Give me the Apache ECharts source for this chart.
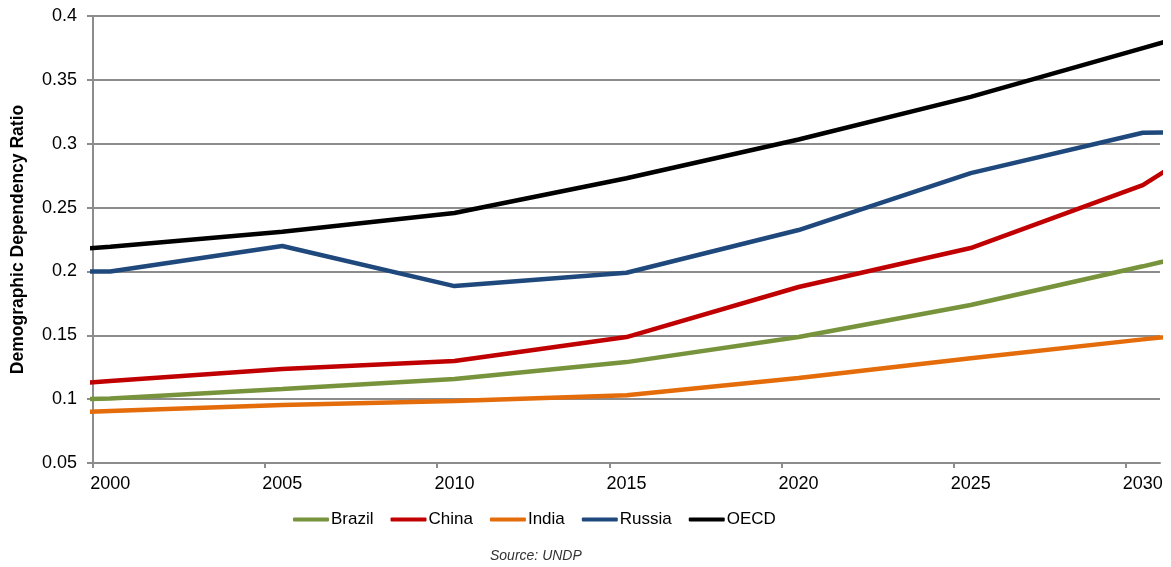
<!DOCTYPE html>
<html>
<head>
<meta charset="utf-8">
<script src="https://cdn.jsdelivr.net/npm/echarts@6/dist/echarts.min.js"></script>
<style>
  html, body { margin: 0; padding: 0; background: #ffffff; }
  #chart { width: 1171px; height: 567px; }
</style>
</head>
<body>
<div id="chart"></div>
<script>
// Demographic dependency ratio, UNDP projections (5-year steps)
const years  = [1995, 2000, 2005, 2010, 2015, 2020, 2025, 2030, 2035];
const brazil = [0.097, 0.1005, 0.108, 0.1158, 0.129, 0.1486, 0.1737, 0.204, 0.235];
const china  = [0.104, 0.1142, 0.1236, 0.1298, 0.1486, 0.1878, 0.2183, 0.2676, 0.352];
const india  = [0.086, 0.0907, 0.0954, 0.0985, 0.103, 0.1165, 0.132, 0.1468, 0.161];
const russia = [0.200, 0.200, 0.2199, 0.1885, 0.1990, 0.2324, 0.277, 0.3086, 0.310];
const oecd   = [0.209, 0.2193, 0.231, 0.2457, 0.273, 0.3033, 0.3367, 0.3748, 0.413];

// Axis labelling
const xLabelYears = [2000, 2005, 2010, 2015, 2020, 2025, 2030];
const xTickYears  = [1999.5, 2004.5, 2009.5, 2014.5, 2019.5, 2024.5, 2029.5];
const yTicks      = [0.05, 0.1, 0.15, 0.2, 0.25, 0.3, 0.35, 0.4];

const seriesDefs = [
  { name: 'Brazil', values: brazil, color: '#77933C' },
  { name: 'China',  values: china,  color: '#C00000' },
  { name: 'India',  values: india,  color: '#E46C0A' },
  { name: 'Russia', values: russia, color: '#1F497D' },
  { name: 'OECD',   values: oecd,   color: '#000000' }
];

const FONT = 'Liberation Sans, Arial, sans-serif';
const GRID_GREY = '#8c8c8c';

const chart = echarts.init(document.getElementById('chart'), null, { renderer: 'canvas' });

chart.setOption({
  animation: false,
  backgroundColor: '#ffffff',
  textStyle: { fontFamily: FONT },
  grid: { left: 93, right: 11, top: 16, bottom: 104, containLabel: false, outerBoundsMode: 'none' },
  legend: {
    left: 288,
    top: 506,
    itemWidth: 36,
    itemHeight: 4,
    itemGap: 17,
    icon: 'roundRect',
    textStyle: { fontFamily: FONT, fontSize: 17, color: '#000000', padding: [0, 0, 0, -3] },
    data: seriesDefs.map(s => s.name)
  },
  graphic: [{
    type: 'text',
    left: 490,
    top: 549,
    style: {
      text: 'Source: UNDP',
      font: 'italic 14px ' + FONT,
      fill: '#333333'
    }
  }],
  xAxis: {
    type: 'value',
    min: 1999.5,
    max: 2030.5,
    axisLine: { show: true, lineStyle: { color: GRID_GREY, width: 2 } },
    axisTick: {
      show: true, length: 5, inside: false,
      customValues: xTickYears,
      lineStyle: { color: GRID_GREY, width: 2 }
    },
    axisLabel: {
      customValues: xLabelYears,
      margin: 12,
      fontFamily: FONT,
      fontSize: 18,
      color: '#000000',
      formatter: v => String(Math.round(v))
    },
    splitLine: { show: false }
  },
  yAxis: {
    type: 'value',
    min: 0.05,
    max: 0.4,
    interval: 0.05,
    name: 'Demographic Dependency Ratio',
    nameLocation: 'middle',
    nameGap: 66,
    nameTextStyle: { fontFamily: FONT, fontSize: 17.5, fontWeight: 'bold', color: '#000000' },
    axisLine: { show: true, lineStyle: { color: GRID_GREY, width: 2 } },
    axisTick: { show: true, length: 6, lineStyle: { color: GRID_GREY, width: 2 } },
    axisLabel: {
      customValues: yTicks,
      margin: 16,
      fontFamily: FONT,
      fontSize: 18,
      color: '#000000',
      formatter: v => String(+v.toFixed(2))
    },
    splitLine: { show: true, lineStyle: { color: GRID_GREY, width: 2 } }
  },
  series: seriesDefs.map(s => ({
    name: s.name,
    type: 'line',
    data: years.map((y, i) => [y, s.values[i]]),
    showSymbol: false,
    symbol: 'none',
    clip: true,
    color: s.color,
    lineStyle: { color: s.color, width: 4.5 },
    emphasis: { disabled: true }
  }))
});
</script>
</body>
</html>
